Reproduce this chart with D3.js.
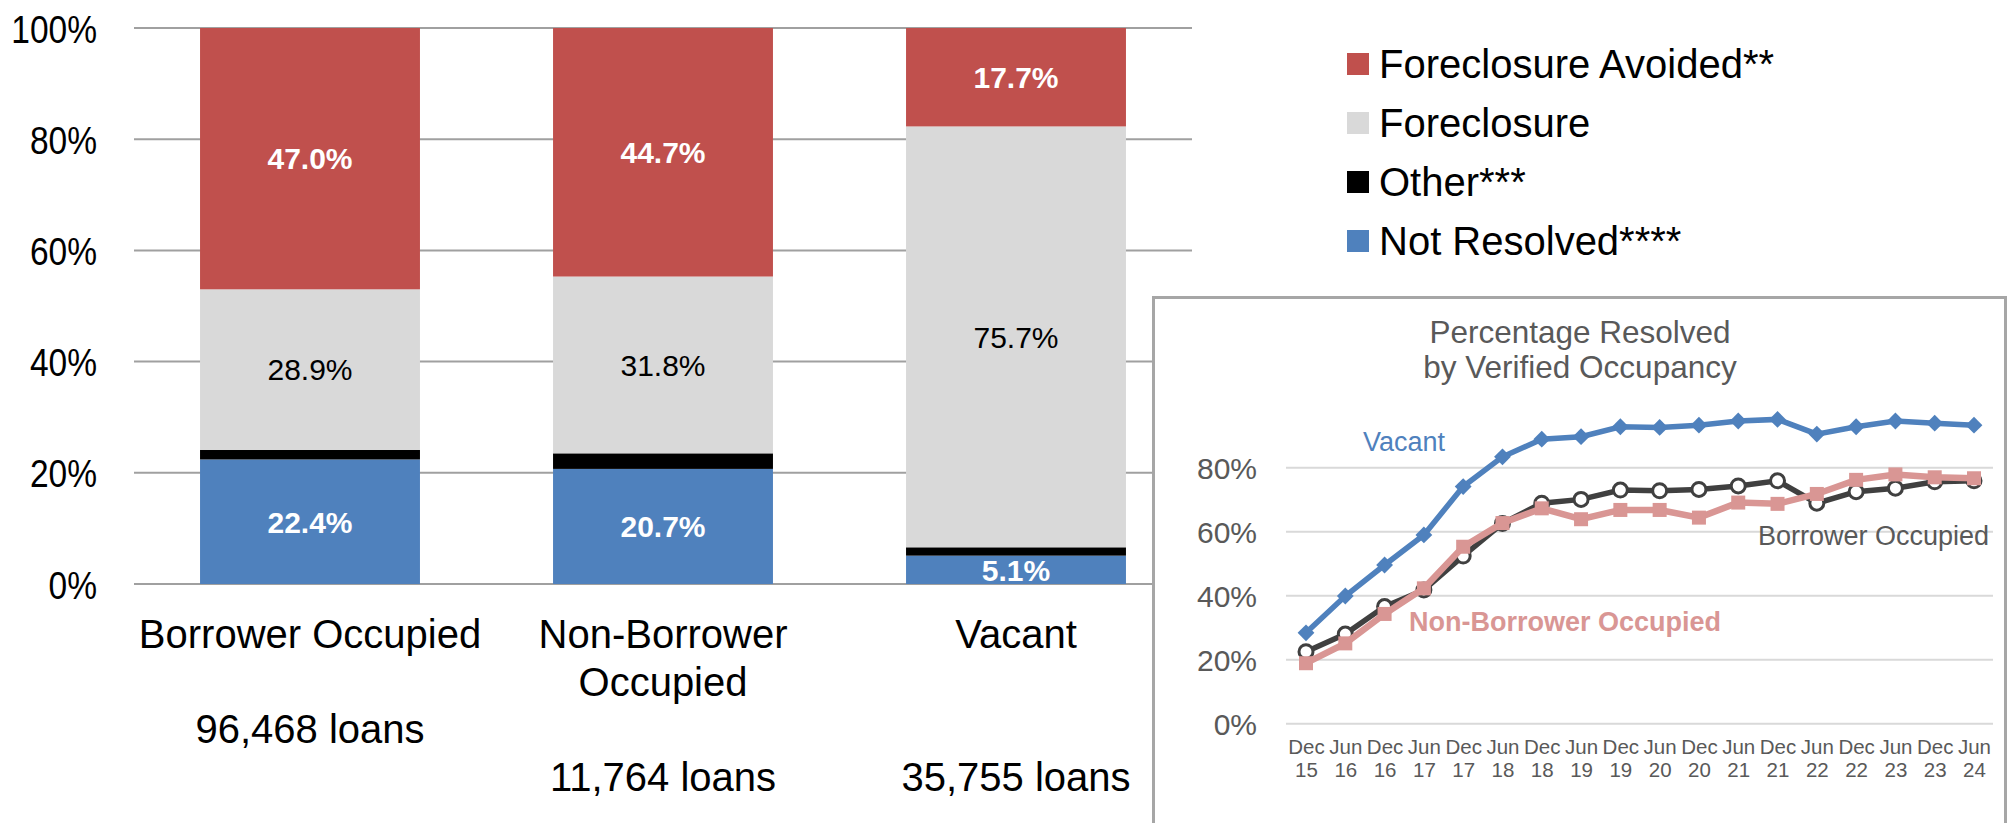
<!DOCTYPE html>
<html>
<head>
<meta charset="utf-8">
<script src="https://d3js.org/d3.v7.min.js"></script>
<style>
  body { margin: 0; background: #fff; }
  svg { display: block; }
</style>
</head>
<body>
<div class="container"></div>
<script>
// main stacked bars
const categories = ['Borrower Occupied\n\n96,468 loans',
    'Non-Borrower\nOccupied\n\n11,764 loans',
    'Vacant\n\n\n35,755 loans'];
const seriesNames = ['Not Resolved****', 'Other***', 'Foreclosure', 'Foreclosure Avoided**'];
const notResolved = [22.4, 20.7, 5.1];
const other = [1.7, 2.8, 1.5];
const foreclosure = [28.9, 31.8, 75.7];
const avoided = [47.0, 44.7, 17.7];
const yTicks = [0, 20, 40, 60, 80, 100];

// inset line chart
const periods = ['Dec 15', 'Jun 16', 'Dec 16', 'Jun 17', 'Dec 17', 'Jun 18', 'Dec 18', 'Jun 19', 'Dec 19',
    'Jun 20', 'Dec 20', 'Jun 21', 'Dec 21', 'Jun 22', 'Dec 22', 'Jun 23', 'Dec 23', 'Jun 24'];
const vacant = [28.4, 39.9, 49.6, 59.0, 74.1, 83.4, 88.9, 89.7, 92.8, 92.6, 93.3, 94.6, 95.1, 90.5, 92.8, 94.6, 93.9, 93.3];
const borrowerOcc = [22.5, 28.0, 36.6, 41.8, 52.4, 62.6, 68.9, 70.1, 73.0, 72.8, 73.2, 74.3, 75.9, 68.9, 72.5, 73.6, 75.6, 75.9];
const nonBorrowerOcc = [18.9, 25.1, 34.3, 42.3, 55.3, 62.7, 67.3, 63.9, 66.8, 66.8, 64.4, 69.1, 68.7, 71.8, 76.2, 77.9, 77.0, 76.7];
const insetTicks = [0, 20, 40, 60, 80];

const W = 2009, H = 823;
const colors = {
    'Foreclosure Avoided**': '#C0504D',
    'Foreclosure': '#D9D9D9',
    'Other***': '#000000',
    'Not Resolved****': '#4F81BD'
};

const svg = d3.select('.container')
    .append('svg')
    .attr('width', W)
    .attr('height', H)
    .style('font-family', '"Liberation Sans", Arial, sans-serif');

// ---- main chart ----
const x = d3.scaleBand()
    .domain(categories)
    .range([133.5, 1192.5])
    .paddingInner(0.377)
    .paddingOuter(0.1885);

const y = d3.scaleLinear()
    .domain([0, 100])
    .range([584, 28]);

svg.append('g')
    .selectAll('line')
    .data(yTicks)
    .join('line')
    .attr('x1', 134)
    .attr('x2', 1192)
    .attr('y1', d => y(d))
    .attr('y2', d => y(d))
    .attr('stroke', '#A0A0A0')
    .attr('stroke-width', 2);

const rows = categories.map((c, i) => ({
    cat: c,
    'Not Resolved****': notResolved[i],
    'Other***': other[i],
    'Foreclosure': foreclosure[i],
    'Foreclosure Avoided**': avoided[i]
}));

const stacked = d3.stack().keys(seriesNames)(rows);

const layers = svg.append('g')
    .selectAll('g')
    .data(stacked)
    .join('g')
    .attr('fill', d => colors[d.key]);

layers.selectAll('rect')
    .data(d => d)
    .join('rect')
    .attr('x', d => x(d.data.cat))
    .attr('width', x.bandwidth())
    .attr('y', d => y(d[1]))
    .attr('height', d => y(d[0]) - y(d[1]));

// value labels
stacked.forEach(layer => {
    if (layer.key === 'Other***') return;
    const dark = layer.key === 'Foreclosure';
    svg.append('g')
        .selectAll('text')
        .data(layer)
        .join('text')
        .attr('x', d => x(d.data.cat) + x.bandwidth() / 2)
        .attr('y', d => (y(d[0]) + y(d[1])) / 2)
        .attr('dy', '0.36em')
        .attr('text-anchor', 'middle')
        .attr('fill', dark ? '#000' : '#fff')
        .attr('font-weight', dark ? 'normal' : 'bold')
        .attr('font-size', 30)
        .text(d => (d[1] - d[0]).toFixed(1) + '%');
});

// y axis
const yAxis = svg.append('g')
    .attr('transform', 'translate(97,0)')
    .call(d3.axisLeft(y).tickValues(yTicks).tickSize(0).tickPadding(0).tickFormat(d => d + '%'));
yAxis.select('.domain').remove();
yAxis.selectAll('text')
    .attr('font-size', 39)
    .attr('fill', '#000')
    .attr('dy', '0.36em')
    .attr('transform', 'scale(0.86,1)');

// x axis with multi-line labels
const xAxis = svg.append('g')
    .attr('transform', 'translate(0,584)')
    .call(d3.axisBottom(x).tickSize(0).tickFormat(''));
xAxis.select('.domain').remove();
xAxis.selectAll('.tick')
    .append('text')
    .attr('text-anchor', 'middle')
    .attr('fill', '#000')
    .attr('font-size', 40)
    .selectAll('tspan')
    .data(d => d.split('\n'))
    .join('tspan')
    .attr('x', 0)
    .attr('y', (d, i) => 64 + i * 47.5)
    .text(d => d);

// legend
const legendOrder = seriesNames.slice().reverse();
const legend = svg.append('g')
    .selectAll('g')
    .data(legendOrder)
    .join('g')
    .attr('transform', (d, i) => `translate(1347, ${64 + i * 59})`);
legend.append('rect')
    .attr('y', -11)
    .attr('width', 22)
    .attr('height', 22)
    .attr('fill', d => colors[d]);
legend.append('text')
    .attr('x', 32)
    .attr('y', 13.5)
    .attr('font-size', 40)
    .attr('fill', '#000')
    .text(d => d);

// ---- inset ----
svg.append('rect')
    .attr('x', 1153.5)
    .attr('y', 297.5)
    .attr('width', 852)
    .attr('height', 600)
    .attr('fill', '#fff')
    .attr('stroke', '#A6A6A6')
    .attr('stroke-width', 3);

const ix = d3.scalePoint()
    .domain(periods)
    .range([1306, 1974]);

const iy = d3.scaleLinear()
    .domain([0, 100])
    .range([723.7, 403.7]);

svg.append('g')
    .selectAll('line')
    .data(insetTicks)
    .join('line')
    .attr('x1', 1286)
    .attr('x2', 1993)
    .attr('y1', d => iy(d))
    .attr('y2', d => iy(d))
    .attr('stroke', '#D9D9D9')
    .attr('stroke-width', 2);

const iyAxis = svg.append('g')
    .attr('transform', 'translate(1257,0)')
    .call(d3.axisLeft(iy).tickValues(insetTicks).tickSize(0).tickPadding(0).tickFormat(d => d + '%'));
iyAxis.select('.domain').remove();
iyAxis.selectAll('text')
    .attr('font-size', 30)
    .attr('fill', '#595959')
    .attr('dy', '0.36em');

const ixAxis = svg.append('g')
    .attr('transform', 'translate(0,724)')
    .call(d3.axisBottom(ix).tickSize(0).tickFormat(''));
ixAxis.select('.domain').remove();
ixAxis.selectAll('.tick')
    .append('text')
    .attr('text-anchor', 'middle')
    .attr('fill', '#595959')
    .attr('font-size', 20.5)
    .selectAll('tspan')
    .data(d => d.split(' '))
    .join('tspan')
    .attr('x', 0)
    .attr('y', (d, i) => 30 + i * 23)
    .text(d => d);

// title
svg.append('text')
    .attr('text-anchor', 'middle')
    .attr('fill', '#595959')
    .attr('font-size', 31.5)
    .selectAll('tspan')
    .data(['Percentage Resolved', 'by Verified Occupancy'])
    .join('tspan')
    .attr('x', 1580)
    .attr('y', (d, i) => 343 + i * 35)
    .text(d => d);

const line = d3.line()
    .x((d, i) => ix(periods[i]))
    .y(d => iy(d));

// borrower occupied
svg.append('path')
    .datum(borrowerOcc)
    .attr('d', line)
    .attr('fill', 'none')
    .attr('stroke', '#404040')
    .attr('stroke-width', 5.5);
svg.append('g')
    .selectAll('circle')
    .data(borrowerOcc)
    .join('circle')
    .attr('cx', (d, i) => ix(periods[i]))
    .attr('cy', d => iy(d))
    .attr('r', 7)
    .attr('fill', '#fff')
    .attr('stroke', '#404040')
    .attr('stroke-width', 3);

// non-borrower occupied
svg.append('path')
    .datum(nonBorrowerOcc)
    .attr('d', line)
    .attr('fill', 'none')
    .attr('stroke', '#D99694')
    .attr('stroke-width', 6.5);
svg.append('g')
    .selectAll('rect')
    .data(nonBorrowerOcc)
    .join('rect')
    .attr('x', (d, i) => ix(periods[i]) - 7)
    .attr('y', d => iy(d) - 7)
    .attr('width', 14)
    .attr('height', 14)
    .attr('fill', '#D99694');

// vacant
svg.append('path')
    .datum(vacant)
    .attr('d', line)
    .attr('fill', 'none')
    .attr('stroke', '#4F81BD')
    .attr('stroke-width', 5.5);
svg.append('g')
    .selectAll('path')
    .data(vacant)
    .join('path')
    .attr('d', d3.symbol().type(d3.symbolDiamond2).size(180))
    .attr('transform', (d, i) => `translate(${ix(periods[i])},${iy(d)})`)
    .attr('fill', '#4F81BD');

// series labels
svg.append('text')
    .attr('x', 1363).attr('y', 451)
    .attr('font-size', 27).attr('fill', '#4F81BD')
    .text('Vacant');
svg.append('text')
    .attr('x', 1758).attr('y', 545)
    .attr('font-size', 27).attr('fill', '#595959')
    .text('Borrower Occupied');
svg.append('text')
    .attr('x', 1409).attr('y', 631)
    .attr('font-size', 27).attr('font-weight', 'bold').attr('fill', '#D99694')
    .text('Non-Borrower Occupied');
</script>
</body>
</html>
